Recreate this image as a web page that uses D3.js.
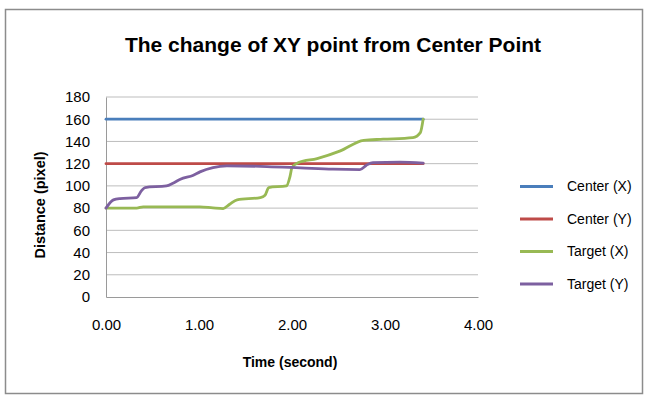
<!DOCTYPE html>
<html>
<head>
<meta charset="utf-8">
<script src="https://cdn.jsdelivr.net/npm/d3@7"></script>
<style>
  body { margin: 0; background: #fff; }
  text { font-family: "Liberation Sans", "DejaVu Sans", sans-serif; fill: #000; }
</style>
</head>
<body>
<svg id="chart" width="650" height="400"></svg>
<script>
// chart values
const seriesNames = ["Center (X)", "Center (Y)", "Target (X)", "Target (Y)"];
const seriesColors = ["#4a7ebb", "#be4b48", "#98b954", "#7d60a0"];

const centerX = [[0, 160], [3.41, 160]];
const centerY = [[0, 120], [3.41, 120]];

const targetX = [
  [0, 80], [0.33, 80], [0.40, 81.2], [1.01, 81.2], [1.15, 80.2], [1.26, 79.6],
  [1.33, 83.5], [1.41, 87.5], [1.66, 89.5], [1.71, 91.6], [1.75, 98.5],
  [1.94, 100], [1.98, 109], [2.00, 116.5], [2.07, 121], [2.27, 124.6],
  [2.52, 131.5], [2.77, 141], [2.98, 142], [3.30, 143.5], [3.38, 148], [3.41, 160]
];
const targetY = [
  [0, 80], [0.08, 87.4], [0.15, 88.6], [0.33, 89.5], [0.38, 95.5], [0.42, 98.5],
  [0.65, 100], [0.72, 102.4], [0.80, 106], [0.94, 109.6], [1.01, 112.6],
  [1.15, 116.5], [1.30, 118], [1.73, 117.4], [2.09, 116.2], [2.44, 115],
  [2.73, 114.7], [2.80, 118.6], [2.87, 121], [3.16, 121.3], [3.41, 120.4]
];
const allSeries = [centerX, centerY, targetX, targetY];

const xTicks = [0, 1, 2, 3, 4];
const yTicks = [0, 20, 40, 60, 80, 100, 120, 140, 160, 180];

const svg = d3.select("#chart");

// outer chart border
svg.append("rect")
  .attr("x", 5.5).attr("y", 9.5)
  .attr("width", 637).attr("height", 384)
  .attr("fill", "#fff")
  .attr("stroke", "#8c8c8c")
  .attr("stroke-width", 1.5);

const plot = { left: 106, right: 478, top: 97, bottom: 297 };

const x = d3.scaleLinear().domain([0, 4]).range([plot.left, plot.right]);
const y = d3.scaleLinear().domain([0, 180]).range([plot.bottom, plot.top]);

// gridlines
svg.append("g")
  .selectAll("line")
  .data(yTicks.filter(d => d > 0))
  .enter()
  .append("line")
  .attr("x1", plot.left).attr("x2", plot.right)
  .attr("y1", d => y(d)).attr("y2", d => y(d))
  .attr("stroke", "#bdbdbd")
  .attr("stroke-width", 1);

// y axis
const yAxis = svg.append("g")
  .attr("transform", "translate(" + plot.left + ",0)")
  .call(d3.axisLeft(y).tickValues(yTicks).tickSize(0).tickPadding(16));
yAxis.select(".domain").attr("stroke", "#9a9a9a");
yAxis.selectAll("text")
  .style("font-size", "15px")
  .attr("fill", "#222");

// x axis
const xAxis = svg.append("g")
  .attr("transform", "translate(0," + plot.bottom + ")")
  .call(d3.axisBottom(x).tickValues(xTicks).tickSize(0).tickPadding(22)
    .tickFormat(d3.format(".2f")));
xAxis.select(".domain").attr("stroke", "#9a9a9a");
xAxis.selectAll("text")
  .style("font-size", "15px")
  .attr("fill", "#222");

// series lines
const line = d3.line()
  .x(d => x(d[0]))
  .y(d => y(d[1]))
  .curve(d3.curveMonotoneX);

svg.append("g")
  .selectAll("path")
  .data(allSeries)
  .enter()
  .append("path")
  .attr("d", line)
  .attr("fill", "none")
  .attr("stroke", (d, i) => seriesColors[i])
  .attr("stroke-width", 2.8)
  .attr("stroke-linejoin", "round")
  .attr("stroke-linecap", "round");

// title and axis titles
svg.append("text")
  .attr("x", 333).attr("y", 52)
  .attr("text-anchor", "middle")
  .style("font-size", "21px")
  .style("font-weight", "bold")
  .text("The change of XY point from Center Point");

svg.append("text")
  .attr("x", 290).attr("y", 367)
  .attr("text-anchor", "middle")
  .style("font-size", "14px")
  .style("font-weight", "bold")
  .text("Time (second)");

svg.append("text")
  .attr("transform", "translate(45,205) rotate(-90)")
  .attr("text-anchor", "middle")
  .style("font-size", "14.5px")
  .style("font-weight", "bold")
  .text("Distance (pixel)");

// legend
const legend = svg.append("g")
  .selectAll("g")
  .data(seriesNames)
  .enter()
  .append("g")
  .attr("transform", (d, i) => "translate(520," + (186.5 + i * 32.5) + ")");

legend.append("line")
  .attr("x1", 0).attr("x2", 33)
  .attr("stroke", (d, i) => seriesColors[i])
  .attr("stroke-width", 2.8);

legend.append("text")
  .attr("x", 47).attr("dy", "0.35em")
  .style("font-size", "14px")
  .text(d => d);
</script>
</body>
</html>
